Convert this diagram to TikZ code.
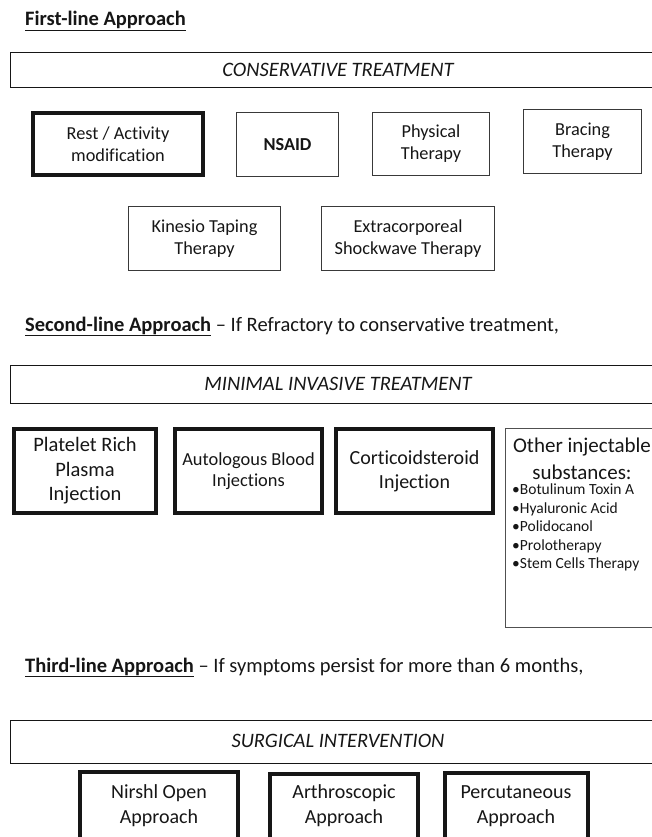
\documentclass[tikz,border=0pt]{standalone}
\usepackage{fontspec}
\setmainfont{Carlito}[Ligatures={NoCommon}]
\usepackage{tikz}

\definecolor{ink}{HTML}{161616}

\begin{document}
\begin{tikzpicture}[x=1pt,y=-1pt,
    every node/.style={text=ink},
    head/.style={anchor=base west,inner sep=0pt,font=\fontsize{20.5}{24}\selectfont},
    band/.style={draw=ink,line width=1.3pt,anchor=north west,minimum width=660pt},
    bandtext/.style={font=\fontsize{20.5}{24}\selectfont\itshape},
    thin/.style={draw=ink!85,line width=1.2pt,align=center,inner sep=0pt,
        font=\fontsize{18.3}{22}\selectfont},
    thick/.style={draw=ink,line width=4pt,align=center,inner sep=0pt,
        font=\fontsize{20.5}{24.5}\selectfont}]
\useasboundingbox (0,0) rectangle (652,837);
\clip (0,0) rectangle (652,837);

% first line
\node[head] (h1) at (25,26) {\underline{\textbf{First-line Approach}}};
\node[band,minimum height=35pt] (cons) at (10,52) {};
\node[bandtext] (consl) at (338,70) {CONSERVATIVE TREATMENT};

\node[thin,draw=ink,line width=4pt,minimum width=170pt,minimum height=62pt] (rest) at (118,144) {Rest / Activity\\modification};
\node[thin,minimum width=102pt,minimum height=64pt] (nsaid) at (287.5,144.5) {\textbf{NSAID}};
\node[thin,minimum width=117pt,minimum height=63pt] (phys) at (431,144) {Physical\\Therapy};
\node[thin,minimum width=118pt,minimum height=64pt] (brace) at (582.5,141.5) {Bracing\\Therapy};
\node[thin,minimum width=152pt,minimum height=64pt] (kines) at (204.5,238.5) {Kinesio Taping\\Therapy};
\node[thin,minimum width=173pt,minimum height=64pt] (eswt) at (408,238.5) {Extracorporeal\\Shockwave Therapy};

% second line
\node[head] (h2) at (25,331) {\underline{\textbf{Second-line Approach}} -- If Refractory to conservative treatment,};
\node[band,minimum height=38pt] (mini) at (10,365) {};
\node[bandtext] (minil) at (338,384) {MINIMAL INVASIVE TREATMENT};

\node[thick,minimum width=142pt,minimum height=84pt] (prp) at (85,471) {Platelet Rich\\Plasma\\Injection};
\node[thick,minimum width=147pt,minimum height=84pt,font=\fontsize{18.4}{21}\selectfont] (blood) at (248.5,471) {Autologous Blood\\Injections};
\node[thick,minimum width=157pt,minimum height=84pt,font=\fontsize{20}{24}\selectfont] (corti) at (414.5,471) {Corticoidsteroid\\Injection};

\node[draw=ink!75,line width=1pt,minimum width=170pt,minimum height=199pt,anchor=north west] (other) at (505,428) {};
\node[align=center,inner sep=0pt,font=\fontsize{21}{27}\selectfont] (othert) at (582,458.5) {Other injectable\\substances:};
\node[align=left,inner sep=0pt,anchor=north west,font=\fontsize{15.5}{18.5}\selectfont] (otherl) at (512,484)
  {\textbullet Botulinum Toxin A\\\textbullet Hyaluronic Acid\\\textbullet Polidocanol\\\textbullet Prolotherapy\\\textbullet Stem Cells Therapy};

% third line
\node[head] (h3) at (25,672) {\underline{\textbf{Third-line Approach}} -- If symptoms persist for more than 6 months,};
\node[band,minimum height=43pt] (surg) at (10,720) {};
\node[bandtext] (surgl) at (338,741) {SURGICAL INTERVENTION};

\node[thick,minimum width=158pt,minimum height=100pt,anchor=north] (open) at (159,770) {};
\node[thick,minimum width=148pt,minimum height=100pt,anchor=north] (arth) at (344,772) {};
\node[thick,minimum width=143pt,minimum height=100pt,anchor=north] (perc) at (516,771) {};
\node[align=center,font=\fontsize{20}{25}\selectfont] (opent) at (159,806) {Nirshl Open\\Approach};
\node[align=center,font=\fontsize{20}{25}\selectfont] (artht) at (344,806) {Arthroscopic\\Approach};
\node[align=center,font=\fontsize{20}{25}\selectfont] (perct) at (516,806) {Percutaneous\\Approach};
\end{tikzpicture}
\end{document}
